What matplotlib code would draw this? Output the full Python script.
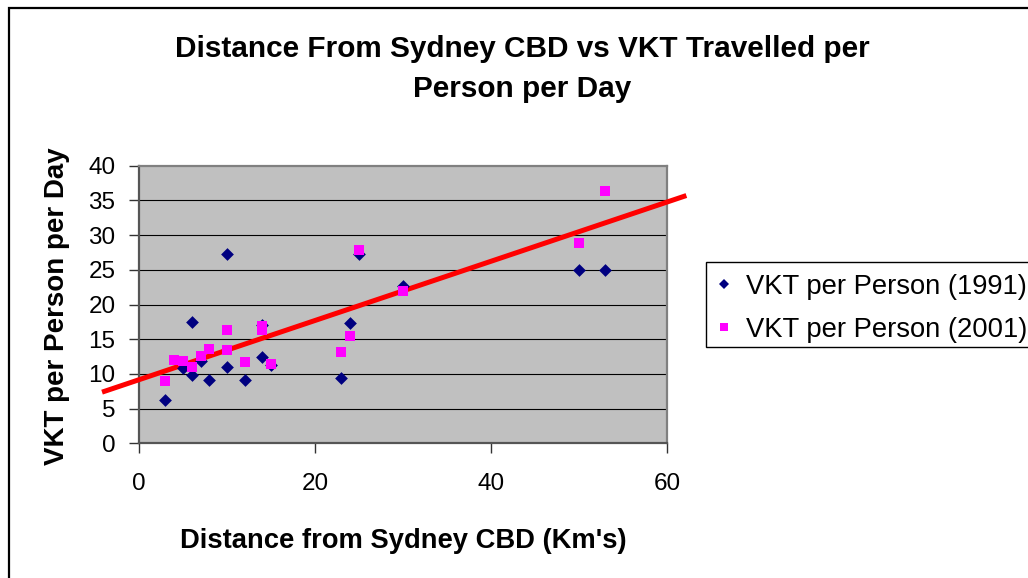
import matplotlib
matplotlib.use("Agg")
import matplotlib.pyplot as plt
from matplotlib.patches import Rectangle
from matplotlib.lines import Line2D

# Distance from Sydney CBD (km) and vehicle kilometres travelled per person per day
dist_1991 = [3, 5, 6, 6, 7, 8, 10, 10, 12, 14, 14, 15, 23, 24, 25, 30, 50, 53]
vkt_1991 = [6.2, 10.8, 17.5, 9.9, 11.8, 9.1, 27.3, 11.0, 9.1, 12.4, 17.1, 11.3,
            9.4, 17.3, 27.3, 22.6, 24.9, 24.9]

dist_2001 = [3, 4, 5, 6, 7, 8, 10, 10, 12, 14, 14, 15, 23, 24, 25, 30, 50, 53]
vkt_2001 = [9.0, 12.0, 11.9, 11.0, 12.6, 13.6, 16.3, 13.4, 11.7, 16.3, 16.9, 11.4,
            13.1, 15.5, 27.8, 21.9, 28.9, 36.4]

# Straight trend line drawn across the chart
trend_x = [-4.2, 62.2]
trend_y = [7.37, 35.7]

x_ticks = [0, 20, 40, 60]
y_ticks = [0, 5, 10, 15, 20, 25, 30, 35, 40]

title = "Distance From Sydney CBD vs VKT Travelled per\nPerson per Day"
x_label = "Distance from Sydney CBD (Km's)"
y_label = "VKT per Person per Day"
series_labels = ["VKT per Person (1991)", "VKT per Person (2001)"]

plt.rcParams["font.family"] = ["Liberation Sans", "DejaVu Sans"]

W, H = 1028, 578
fig = plt.figure(figsize=(W / 100, H / 100), dpi=100)
fig.patch.set_facecolor("white")

# chart outline (left and top edges visible)
fig.patches.append(Rectangle((9 / W, -0.2), 1.2, 1.2 - 7.5 / H, transform=fig.transFigure,
                             fill=False, edgecolor="black", linewidth=1.6, zorder=0))

ax = fig.add_axes([139 / W, 1 - 443.3 / H, (667 - 139) / W, (443.3 - 165.7) / H])
ax.set_facecolor("#C0C0C0")
ax.set_xlim(0, 60)
ax.set_ylim(0, 40)
ax.set_xticks(x_ticks)
ax.set_yticks(y_ticks)

for v in y_ticks[1:-1]:
    ax.axhline(v, color="black", linewidth=0.8, zorder=1)

for side in ["left", "right", "top", "bottom"]:
    ax.spines[side].set_color("#808080")
    ax.spines[side].set_linewidth(1.6)
ax.spines["left"].set_color("#555555")
ax.spines["bottom"].set_color("#555555")

ax.tick_params(axis="both", direction="out", length=7, width=1, color="#333333",
               labelsize=17.5, labelcolor="black")
ax.tick_params(axis="y", pad=10.0)
ax.tick_params(axis="x", pad=14.5)

ax.plot(trend_x, trend_y, color="#FF0000", linewidth=3.6, clip_on=False, zorder=3,
        solid_capstyle="butt")

ax.scatter(dist_1991, vkt_1991, marker="D", s=6.5 ** 2, color="#000080",
           linewidths=0, zorder=4, clip_on=False)
ax.scatter(dist_2001, vkt_2001, marker="s", s=7.7 ** 2, color="#FF00FF",
           linewidths=0, zorder=5, clip_on=False)

fig.text(522 / W, 1 - 69 / H, title, ha="center", va="center", fontsize=21.4,
         fontweight="bold", linespacing=1.55)
fig.text(403 / W, 1 - 548 / H, x_label, ha="center", va="baseline", fontsize=19.7,
         fontweight="bold")
fig.text(56.5 / W, 1 - 306.5 / H, y_label, ha="center", va="center", rotation=90,
         fontsize=20, fontweight="bold")

# legend box
fig.patches.append(Rectangle((706 / W, 1 - 347 / H), 340 / W, 85 / H,
                             transform=fig.transFigure, facecolor="white",
                             edgecolor="black", linewidth=1.0, zorder=2))

handles = [
    Line2D([], [], linestyle="none", marker="D", markersize=5, color="#000080",
           markeredgewidth=0),
    Line2D([], [], linestyle="none", marker="s", markersize=6, color="#FF00FF",
           markeredgewidth=0),
]
leg = fig.legend(handles, series_labels, loc="upper left",
                 bbox_to_anchor=(706 / W, 1 - 260 / H), bbox_transform=fig.transFigure,
                 borderaxespad=0, fontsize=19.7, frameon=False, borderpad=0.5,
                 labelspacing=0.62, handlelength=0.3, handletextpad=0.66)
leg.set_zorder(3)

fig.savefig("out.png", dpi=100, facecolor="white")
